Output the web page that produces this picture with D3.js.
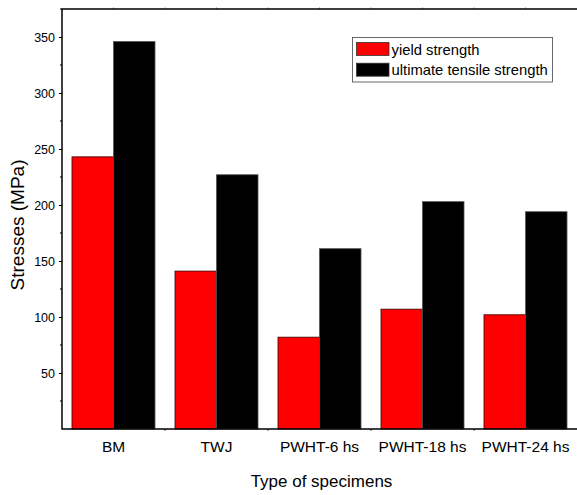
<!DOCTYPE html>
<html><head><meta charset="utf-8">
<script src="https://cdn.jsdelivr.net/npm/d3@7"></script>
<style>body{margin:0;background:#fff}svg{display:block}text{font-family:"Liberation Sans",Arial,sans-serif;fill:#000}</style>
</head><body>
<svg id="c" width="577" height="495"></svg>
<script>
const categories = ["BM", "TWJ", "PWHT-6 hs", "PWHT-18 hs", "PWHT-24 hs"];
const yieldStrength = [243, 141, 82, 107, 102];
const ultimateStrength = [346, 227, 161, 203, 194];
const seriesNames = ["yield strength", "ultimate tensile strength"];
const seriesColors = ["#ff0000", "#000000"];
const yTicks = [50, 100, 150, 200, 250, 300, 350];
const yMinorTicks = [25, 75, 125, 175, 225, 275, 325, 375];

const svg = d3.select("#c");
const L = 62, R = 577, T = 9, B = 429;

const x = d3.scaleBand().domain(categories).range([L, R]).paddingInner(0.194).paddingOuter(0.097);
const x1 = d3.scaleBand().domain(seriesNames).range([0, x.bandwidth()]);
const y = d3.scaleLinear().domain([0, 375]).range([B, T]);

const series = [yieldStrength, ultimateStrength];

// bars
series.forEach((vals, si) => {
  svg.append("g").selectAll("rect").data(categories).join("rect")
    .attr("x", (d) => x(d) + x1(seriesNames[si]))
    .attr("y", (d, i) => y(vals[i]))
    .attr("width", x1.bandwidth())
    .attr("height", (d, i) => B - y(vals[i]))
    .attr("fill", seriesColors[si])
    .attr("stroke", si === 0 ? "#3a0000" : "#555")
    .attr("stroke-width", 0.8);
});

// y axis
const yAxis = d3.axisLeft(y).tickValues(yTicks).tickSize(3).tickPadding(4);
const gy = svg.append("g").attr("transform", `translate(${L},0)`).call(yAxis);
gy.select(".domain").remove();
gy.selectAll(".tick line").attr("stroke", "#000").attr("stroke-width", 1);
gy.selectAll(".tick text").attr("font-size", 12.5).attr("font-family", "Liberation Sans, Arial, sans-serif");
svg.append("g").selectAll("line").data(yMinorTicks).join("line")
  .attr("x1", L - 2).attr("x2", L).attr("y1", d => y(d)).attr("y2", d => y(d))
  .attr("stroke", "#000").attr("stroke-width", 1);

// x axis
const xAxis = d3.axisBottom(x).tickSize(0).tickPadding(12);
const gx = svg.append("g").attr("transform", `translate(0,${B})`).call(xAxis);
gx.select(".domain").remove();
gx.selectAll(".tick text").attr("font-size", 15.5).attr("font-family", "Liberation Sans, Arial, sans-serif");
// small boundary ticks
const bounds = categories.slice(1).map(c => x(c) - x.step() * x.paddingInner() / 2);
svg.append("g").selectAll("line").data(bounds).join("line")
  .attr("x1", d => d).attr("x2", d => d).attr("y1", B).attr("y2", B + 2)
  .attr("stroke", "#555").attr("stroke-width", 1);
const topTicks = [];
categories.forEach((c, i) => { topTicks.push(x(c) + x.bandwidth() / 2); if (i > 0) topTicks.push(bounds[i - 1]); });
svg.append("g").selectAll("line").data(topTicks).join("line")
  .attr("x1", d => d).attr("x2", d => d).attr("y1", T - 1.5).attr("y2", T)
  .attr("stroke", "#888").attr("stroke-width", 1);

// frame
svg.append("path").attr("d", `M${R + 2},${T}H${L}V${B}H${R + 2}`)
  .attr("fill", "none").attr("stroke", "#000").attr("stroke-width", 1.5);

// axis titles
svg.append("text").attr("transform", `translate(24,${(T + B) / 2 + 6}) rotate(-90)`)
  .attr("text-anchor", "middle").attr("font-size", 19).text("Stresses (MPa)");
svg.append("text").attr("x", (L + R) / 2 + 2).attr("y", 487)
  .attr("text-anchor", "middle").attr("font-size", 17).text("Type of specimens");

// legend
const lg = svg.append("g");
lg.append("rect").attr("x", 352.5).attr("y", 37.5).attr("width", 200).attr("height", 44.5)
  .attr("fill", "#fff").attr("stroke", "#444").attr("stroke-width", 0.8);
seriesNames.forEach((n, i) => {
  const yy = 42.5 + i * 20.7;
  lg.append("rect").attr("x", 356.5).attr("y", yy).attr("width", 32.5).attr("height", 13)
    .attr("fill", seriesColors[i]).attr("stroke", "#333").attr("stroke-width", 0.8);
  lg.append("text").attr("x", 391.5).attr("y", yy + 12).attr("font-size", 14.8).text(n);
});
</script>
</body></html>
